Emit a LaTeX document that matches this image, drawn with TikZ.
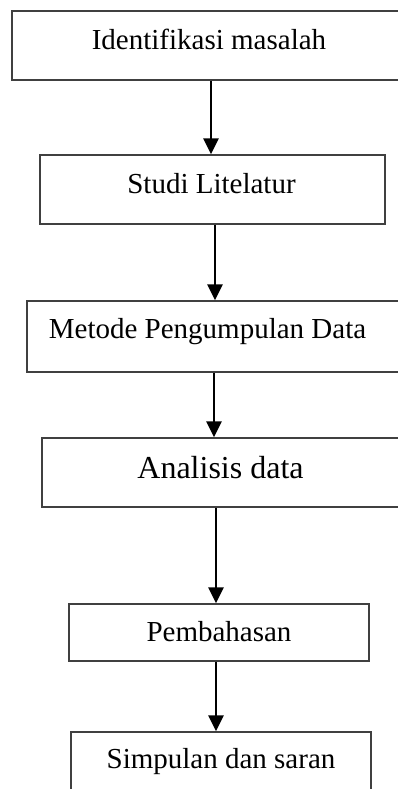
\documentclass[tikz,border=0pt]{standalone}
\usepackage{fontspec}
\setmainfont{Liberation Serif}
\usetikzlibrary{arrows.meta}
\begin{document}
\begin{tikzpicture}[x=1pt,y=-1pt,
  boxnode/.style={draw=black!75,line width=1.3pt,inner sep=0pt,rectangle},
  lbl/.style={anchor=base,inner sep=0pt,font=\fontsize{29}{34}\selectfont},
  arr/.style={line width=2.6pt,-{Triangle[length=16pt,width=15pt]}}]
\useasboundingbox (0,0) rectangle (398,789);
\clip (0,0) rectangle (398,789);
\node[boxnode,minimum width=408pt,minimum height=69pt] (b1) at (216,45.5) {};
\node[boxnode,minimum width=345pt,minimum height=69pt] (b2) at (212.5,189.5) {};
\node[boxnode,minimum width=393pt,minimum height=71pt] (b3) at (223.5,336.5) {};
\node[boxnode,minimum width=378pt,minimum height=69pt] (b4) at (231,472.5) {};
\node[boxnode,minimum width=300pt,minimum height=57pt] (b5) at (219,632.5) {};
\node[boxnode,minimum width=300pt,minimum height=88pt] (b6) at (221,776) {};
\node[lbl] (t1) at (209,50) {Identifikasi masalah};
\node[lbl] (t2) at (211.5,193) {Studi Litelatur};
\node[lbl] (t3) at (207.5,338) {Metode Pengumpulan Data};
\node[lbl,font=\fontsize{32}{38}\selectfont] (t4) at (220.5,478) {Analisis data};
\node[lbl] (t5) at (219,641) {Pembahasan};
\node[lbl] (t6) at (221,768) {Simpulan dan saran};
\coordinate (x1) at (211,0);
\coordinate (x2) at (215,0);
\coordinate (x3) at (214,0);
\coordinate (x4) at (216,0);
\coordinate (x5) at (216,0);
\draw[arr] (b1.south -| x1) -- (b2.north -| x1);
\draw[arr] (b2.south -| x2) -- (b3.north -| x2);
\draw[arr] (b3.south -| x3) -- (b4.north -| x3);
\draw[arr] (b4.south -| x4) -- (b5.north -| x4);
\draw[arr] (b5.south -| x5) -- (b6.north -| x5);
\end{tikzpicture}
\end{document}
